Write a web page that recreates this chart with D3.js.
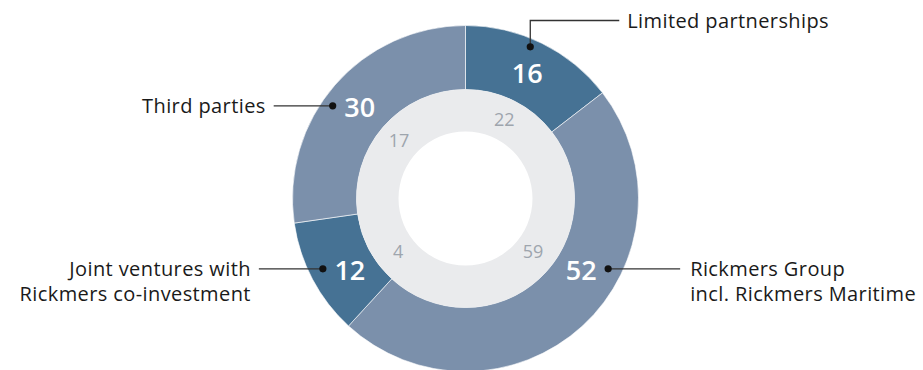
<!DOCTYPE html>
<html>
<head>
<meta charset="utf-8">
<script src="https://cdn.jsdelivr.net/npm/d3@7"></script>
<style>
  body { margin: 0; background: #fff; }
  svg { display: block; font-family: "Open Sans", sans-serif; }
</style>
</head>
<body>
<svg class="vis" width="923" height="370"></svg>
<script>
// outer ring (white numbers), inner ring (grey numbers)
const categories = [
    ["Limited partnerships"],
    ["Rickmers Group", "incl. Rickmers Maritime"],
    ["Joint ventures with", "Rickmers co-investment"],
    ["Third parties"]
];
const outerValues = [16, 52, 12, 30];
const innerValues = [22, 59, 4, 17];
const sliceColors = ["#467294", "#7b90ab", "#467294", "#7b90ab"];

const vis = {

    dims: { w: 923, h: 370, cx: 465.5, cy: 198.5, rOuter: 173, rMid: 109, rInner: 67 },

    draw: function() {

        const svg = d3.select("svg.vis");
        const d = vis.dims;
        const g = svg.append("g").attr("transform", `translate(${d.cx},${d.cy})`);

        const pie = d3.pie().sort(null).value(v => v);
        const outerArcs = pie(outerValues);

        const arcOuter = d3.arc().innerRadius(d.rMid).outerRadius(d.rOuter);

        g.append("g")
            .selectAll("path")
            .data(outerArcs)
            .join("path")
            .attr("d", arcOuter)
            .attr("fill", (a, i) => sliceColors[i])
            .attr("stroke", "#fff")
            .attr("stroke-width", 0.6);

        // inner grey ring, no visible divisions
        g.append("path")
            .attr("d", d3.arc().innerRadius(d.rInner).outerRadius(d.rMid).startAngle(0).endAngle(2 * Math.PI)())
            .attr("fill", "#eaebed");

        const mid = a => (a.startAngle + a.endAngle) / 2;

        // puts labels on a circle, the lower ones share a row
        const place = function(r, rowFn) {
            const labs = outerArcs.map((a, i) => {
                const t = mid(a);
                return { i, t, x: r * Math.sin(t), y: -r * Math.cos(t) };
            });
            const lower = labs.filter(l => l.y > 0);
            const rowY = rowFn(lower);
            lower.forEach(l => {
                l.y = rowY;
                l.x = Math.sign(l.x) * Math.sqrt(Math.max(0, r * r - rowY * rowY)) * 0.96;
            });
            return labs;
        };

        const labs = place(140, lower => d3.min(lower, l => l.y) + 6);
        labs.forEach(l => {
            l.side = l.x < 0 ? "left" : (Math.abs(l.t) < Math.PI / 4 ? "top" : "right");
        });

        g.append("g")
            .selectAll("text")
            .data(labs)
            .join("text")
            .attr("x", l => l.x)
            .attr("y", l => l.y)
            .attr("dy", "0.36em")
            .attr("text-anchor", "middle")
            .attr("fill", "#fff")
            .attr("font-size", 27)
            .attr("font-weight", 600)
            .text(l => outerValues[l.i]);

        // inner numbers
        const innerLabs = place(88, lower => d3.mean(lower, l => l.y));
        g.append("g")
            .selectAll("text")
            .data(innerLabs)
            .join("text")
            .attr("x", l => l.x)
            .attr("y", l => l.y)
            .attr("dy", "0.36em")
            .attr("text-anchor", "middle")
            .attr("fill", "#9ea5ad")
            .attr("font-size", 18)
            .text(l => innerValues[l.i]);

        // leaders and category names
        const lead = g.append("g");
        const gap = 27, lineH = 25;
        labs.forEach(l => {
            let dot, pts, tx, ty, anchor;
            if (l.side === "top") {
                dot = [l.x + 3, l.y - 26];
                const ey = -d.rOuter - 5;
                pts = [dot, [dot[0], ey], [dot[0] + 89, ey]];
                tx = dot[0] + 97; ty = ey; anchor = "start";
            } else if (l.side === "left") {
                dot = [l.x - gap, l.y - 1];
                const len = l.y > 0 ? 64 : 59;
                pts = [dot, [dot[0] - len, dot[1]]];
                tx = dot[0] - len - 8; ty = dot[1]; anchor = "end";
            } else {
                dot = [l.x + gap, l.y - 1];
                pts = [dot, [dot[0] + 72, dot[1]]];
                tx = dot[0] + 82; ty = dot[1]; anchor = "start";
            }
            lead.append("path")
                .attr("d", d3.line()(pts))
                .attr("fill", "none")
                .attr("stroke", "#333")
                .attr("stroke-width", 1.3);
            lead.append("circle")
                .attr("cx", dot[0]).attr("cy", dot[1]).attr("r", 3.6)
                .attr("fill", "#111");
            const txt = lead.append("text")
                .attr("x", tx).attr("y", ty)
                .attr("text-anchor", anchor)
                .attr("fill", "#1a1a1a")
                .attr("font-size", 20)
                .attr("letter-spacing", 0.4);
            categories[l.i].forEach((s, k) => {
                txt.append("tspan")
                    .attr("x", tx)
                    .attr("y", ty + k * lineH)
                    .attr("dy", "0.36em")
                    .text(s);
            });
        });
    }
};

vis.draw();
</script>
</body>
</html>
